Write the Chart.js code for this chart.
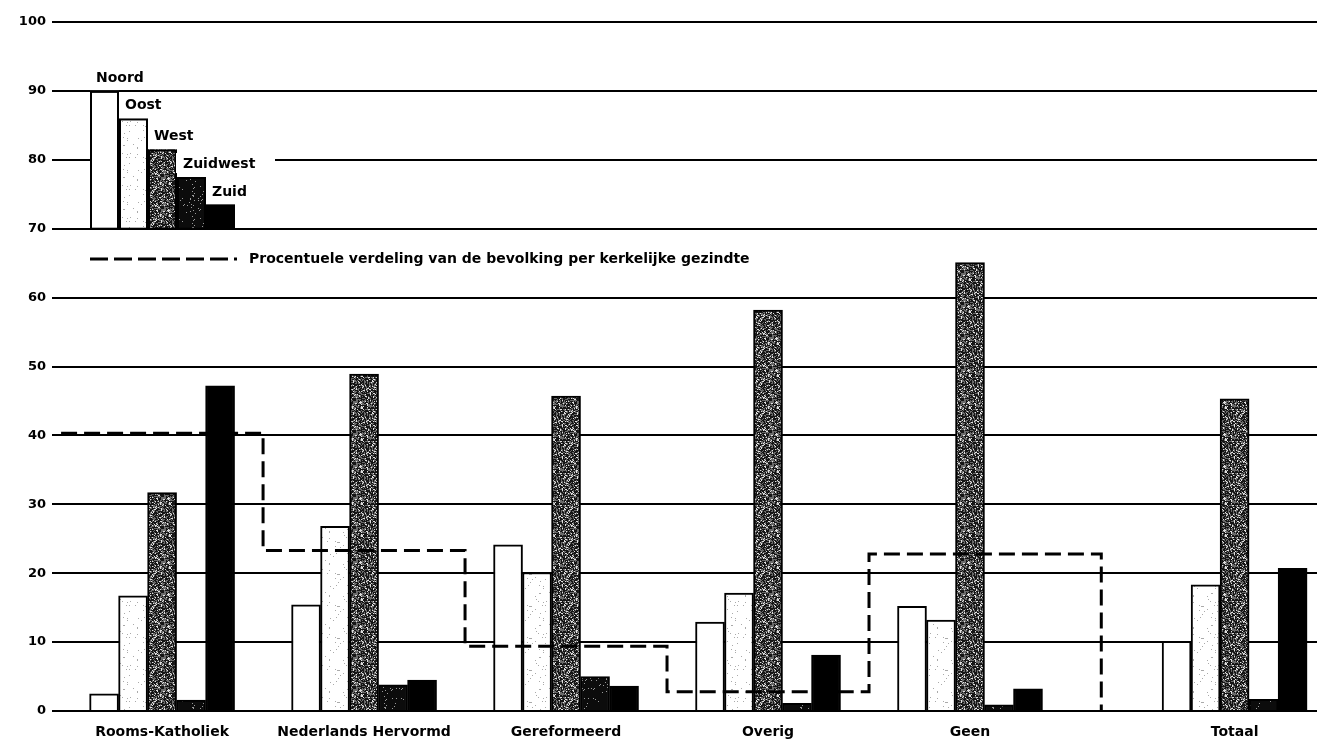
<!DOCTYPE html>
<html>
<head>
<meta charset="utf-8">
<script src="https://cdn.jsdelivr.net/npm/chart.js@4.4.1/dist/chart.umd.min.js"></script>
<style>
  html, body { margin: 0; padding: 0; background: #fff; }
  #wrap { width: 1317px; height: 748px; position: relative; }
</style>
</head>
<body>
<div id="wrap"><canvas id="chart"></canvas></div>
<script>
const categories = ["Rooms-Katholiek", "Nederlands Hervormd", "Gereformeerd", "Overig", "Geen", "Totaal"];
const groupPos = [0, 1, 2, 3, 4, 5.31];
const regions = ["Noord", "Oost", "West", "Zuidwest", "Zuid"];

const noord = [2.5, 15.4, 24.1, 12.9, 15.2, 10.1];
const oost = [16.7, 26.8, 20.1, 17.1, 13.2, 18.3];
const west = [31.7, 48.9, 45.7, 58.2, 65.1, 45.3];
const zuidwest = [1.6, 3.8, 5.0, 1.1, 0.9, 1.7];
const zuid = [47.2, 4.5, 3.6, 8.1, 3.2, 20.7];

// procentuele verdeling van de bevolking (stappenlijn)
const stepEdges = [-0.5, 0.5, 1.5, 2.5, 3.5, 4.65];
const stepValues = [40.3, 23.3, 9.4, 2.8, 22.8, 0];

// legenda-staafjes linksboven
const legendTops = [90, 86, 81.5, 77.5, 73.5];
const legendBase = 70;
const legendText = "Procentuele verdeling van de bevolking per kerkelijke gezindte";

const FONT = "'DejaVu Sans', 'Liberation Sans', sans-serif";

// korrelige rasters zoals in de scan (vast zaadgetal, geen data)
function stipple(base, dark, darkDensity, light, lightDensity, seed) {
  const c = document.createElement("canvas");
  c.width = 32;
  c.height = 32;
  const g = c.getContext("2d");
  g.fillStyle = base;
  g.fillRect(0, 0, 32, 32);
  let s = seed;
  for (let i = 0; i < 32 * 32; i++) {
    s = (s * 1103515245 + 12345) & 0x7fffffff;
    const r = ((s >> 8) % 1000) / 1000;
    if (r < darkDensity) {
      g.fillStyle = dark;
      g.fillRect(i % 32, Math.floor(i / 32), 1, 1);
    } else if (r < darkDensity + lightDensity) {
      g.fillStyle = light;
      g.fillRect(i % 32, Math.floor(i / 32), 1, 1);
    }
  }
  return g.createPattern(c, "repeat");
}

const fills = [
  "#ffffff",
  stipple("#ffffff", "#aaaaaa", 0.03, "#ffffff", 0, 7),
  stipple("#6a6a6a", "#151515", 0.5, "#e0e0e0", 0.14, 11),
  stipple("#0c0c0c", "#0c0c0c", 0, "#999999", 0.05, 23),
  "#000000",
];

function points(values) {
  return groupPos.map((x, i) => ({ x: x, y: values[i] }));
}

const regionLegend = {
  id: "regionLegend",
  afterDatasetsDraw(chart) {
    const { ctx, chartArea, scales } = chart;
    const y = scales.y;
    const base = y.getPixelForValue(legendBase);
    const left = chartArea.left + 38;
    ctx.save();
    ctx.font = "bold 14px " + FONT;
    regions.forEach((name, i) => {
      const top = y.getPixelForValue(legendTops[i]);
      const x = left + i * 29;
      if (name === "Zuidwest") {
        ctx.fillStyle = "#fff";
        ctx.fillRect(x - 1, top - 24, 275 - (x - 1), 20);
      }
      ctx.fillStyle = fills[i];
      ctx.fillRect(x, top, 29, base - top);
      ctx.lineWidth = 2;
      ctx.strokeStyle = "#000";
      ctx.strokeRect(x + 1, top + 1, 27, base - top - 1);
      ctx.fillStyle = "#000";
      ctx.textBaseline = "alphabetic";
      ctx.fillText(name, x + 6, top - 9);
    });

    const ly = y.getPixelForValue(65.6);
    ctx.setLineDash([18, 6]);
    ctx.lineWidth = 3;
    ctx.beginPath();
    ctx.moveTo(left, ly);
    ctx.lineTo(left + 147, ly);
    ctx.stroke();
    ctx.setLineDash([]);
    ctx.font = "bold 14px " + FONT;
    ctx.textBaseline = "middle";
    ctx.fillText(legendText, left + 159, ly);
    ctx.restore();
  },
};

const barStyle = {
  borderColor: "#000",
  borderWidth: 2,
  barThickness: 29,
  order: 1,
};

new Chart(document.getElementById("chart"), {
  type: "bar",
  data: {
    datasets: [
      { label: regions[0], data: points(noord), backgroundColor: fills[0], ...barStyle },
      { label: regions[1], data: points(oost), backgroundColor: fills[1], ...barStyle },
      { label: regions[2], data: points(west), backgroundColor: fills[2], ...barStyle },
      { label: regions[3], data: points(zuidwest), backgroundColor: fills[3], ...barStyle },
      { label: regions[4], data: points(zuid), backgroundColor: fills[4], ...barStyle },
      {
        type: "line",
        label: legendText,
        data: stepEdges.map((x, i) => ({ x: x, y: stepValues[i] })),
        stepped: true,
        borderColor: "#000",
        borderWidth: 3,
        borderDash: [16, 7],
        pointRadius: 0,
        fill: false,
        order: 0,
      },
    ],
  },
  options: {
    responsive: true,
    maintainAspectRatio: false,
    animation: false,
    layout: { padding: { top: 22, right: 0, left: 0, bottom: 0 } },
    plugins: {
      legend: { display: false },
      tooltip: { enabled: false },
    },
    scales: {
      x: {
        type: "linear",
        offset: false,
        min: -0.545,
        max: 5.718,
        grid: { display: false, offset: false },
        border: { display: false },
        afterBuildTicks: (scale) => {
          scale.ticks = groupPos.map((v) => ({ value: v }));
        },
        afterFit: (scale) => {
          scale.height = 37;
        },
        ticks: {
          autoSkip: false,
          maxRotation: 0,
          padding: 5,
          color: "#000",
          font: { family: FONT, size: 14, weight: "bold" },
          callback: (value) => categories[groupPos.indexOf(value)],
        },
      },
      y: {
        min: 0,
        max: 100,
        grid: { color: "#000", lineWidth: 2, drawTicks: false },
        border: { display: false },
        afterFit: (scale) => {
          scale.width = 52;
        },
        ticks: {
          stepSize: 10,
          padding: 6,
          color: "#000",
          font: { family: FONT, size: 13, weight: "bold" },
        },
      },
    },
  },
  plugins: [regionLegend],
});
</script>
</body>
</html>
